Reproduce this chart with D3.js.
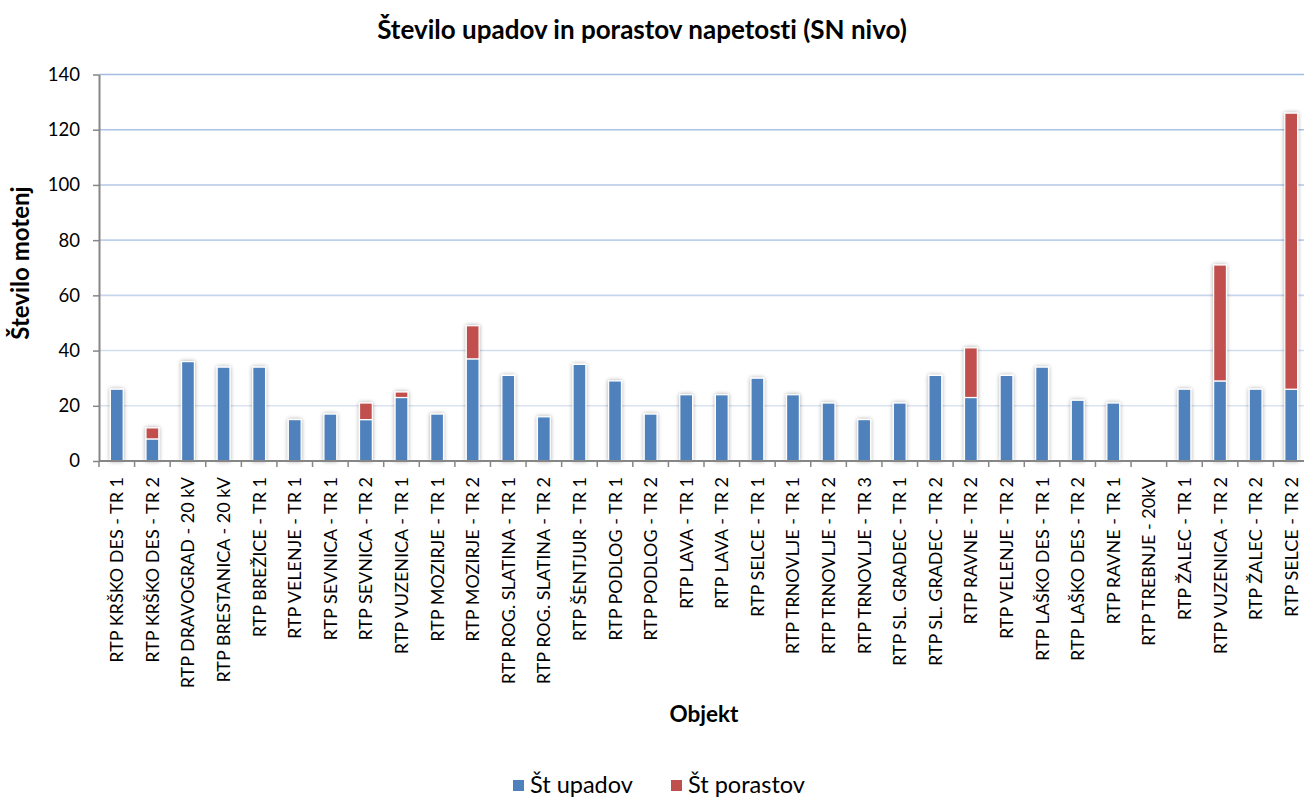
<!DOCTYPE html>
<html><head><meta charset="utf-8">
<script src="https://cdn.jsdelivr.net/npm/d3@7/dist/d3.min.js"></script>
<style>body{margin:0;background:#fff}svg{display:block}text{font-family:Lato,"Open Sans",sans-serif;font-variant-ligatures:none;font-feature-settings:"liga" 0,"clig" 0}</style>
</head><body><svg id="c" width="1304" height="800"></svg>
<script>
const categories = ["RTP KRŠKO DES - TR 1","RTP KRŠKO DES - TR 2","RTP DRAVOGRAD - 20 kV","RTP BRESTANICA - 20 kV","RTP BREŽICE - TR 1","RTP VELENJE - TR 1","RTP SEVNICA - TR 1","RTP SEVNICA - TR 2","RTP VUZENICA - TR 1","RTP MOZIRJE - TR 1","RTP MOZIRJE - TR 2","RTP ROG. SLATINA - TR 1","RTP ROG. SLATINA - TR 2","RTP ŠENTJUR - TR 1","RTP PODLOG - TR 1","RTP PODLOG - TR 2","RTP LAVA - TR 1","RTP LAVA - TR 2","RTP SELCE - TR 1","RTP TRNOVLJE - TR 1","RTP TRNOVLJE - TR 2","RTP TRNOVLJE - TR 3","RTP SL. GRADEC - TR 1","RTP SL. GRADEC - TR 2","RTP RAVNE - TR 2","RTP VELENJE - TR 2","RTP LAŠKO DES - TR 1","RTP LAŠKO DES - TR 2","RTP RAVNE - TR 1","RTP TREBNJE - 20kV","RTP ŽALEC - TR 1","RTP VUZENICA - TR 2","RTP ŽALEC - TR 2","RTP SELCE - TR 2"];
const upadov = [26,8,36,34,34,15,17,15,23,17,37,31,16,35,29,17,24,24,30,24,21,15,21,31,23,31,34,22,21,0,26,29,26,26];
const porastov = [0,4,0,0,0,0,0,6,2,0,12,0,0,0,0,0,0,0,0,0,0,0,0,0,18,0,0,0,0,0,0,42,0,100];
const seriesNames = ["Št upadov","Št porastov"];
const yTicks = [0,20,40,60,80,100,120,140];
const colors = ["#4f81bd","#c0504d"];

const svg = d3.select("#c");
const pL = 99, pR = 1309, pT = 74.5, pB = 461;
const x = d3.scaleBand().domain(categories).range([pL, pR]).paddingInner(0.64).paddingOuter(0.32);
const y = d3.scaleLinear().domain([0,140]).range([pB, pT]);

const defs = svg.append("defs");
const f = defs.append("filter").attr("id","sh").attr("x","-50%").attr("y","-20%").attr("width","200%").attr("height","140%");
f.append("feGaussianBlur").attr("in","SourceAlpha").attr("stdDeviation",2.2).attr("result","b");
f.append("feComponentTransfer").attr("in","b").attr("result","o2").append("feFuncA").attr("type","linear").attr("slope",0.35);
const m = f.append("feMerge"); m.append("feMergeNode").attr("in","o2"); m.append("feMergeNode").attr("in","SourceGraphic");

// gridlines
const gc = d3.scaleLinear().domain([0,140]).range(["#e3eaf5","#a3bce2"]);
svg.append("g").selectAll("line").data(yTicks.filter(d=>d>0)).join("line")
  .attr("x1",pL).attr("x2",pR).attr("y1",d=>y(d)).attr("y2",d=>y(d))
  .attr("stroke",d=>gc(d)).attr("stroke-width",1.6);

// bars
const stack = categories.map((c,i)=>({c, a:upadov[i], b:porastov[i]}));
const bars = svg.append("g").attr("filter","url(#sh)");
stack.forEach(d=>{
  if (d.a>0) bars.append("rect").attr("x",x(d.c)).attr("width",x.bandwidth()).attr("y",y(d.a)).attr("height",y(0)-y(d.a))
    .attr("fill",colors[0]).attr("stroke","#fff").attr("stroke-width",1.2);
  if (d.b>0) bars.append("rect").attr("x",x(d.c)).attr("width",x.bandwidth()).attr("y",y(d.a+d.b)).attr("height",y(d.a)-y(d.a+d.b))
    .attr("fill",colors[1]).attr("stroke","#fff").attr("stroke-width",1.2);
});

// y axis
const ya = svg.append("g").attr("transform",`translate(${pL},0)`).call(d3.axisLeft(y).tickValues(yTicks).tickSize(6).tickSizeOuter(0));
ya.select(".domain").attr("stroke","#868686").attr("stroke-width",2);
ya.selectAll(".tick line").attr("stroke","#868686").attr("stroke-width",1.5);
ya.selectAll(".tick text").attr("x",-19).attr("font-size",18.5).attr("fill","#000").style("font-family","Lato");

// x axis
const xa = svg.append("g").attr("transform",`translate(0,${pB})`);
xa.append("line").attr("x1",pL).attr("x2",pR).attr("stroke","#868686").attr("stroke-width",2);
const step = x.step();
xa.selectAll("line.t").data(d3.range(categories.length+1)).join("line").attr("class","t")
  .attr("x1",i=>pL+i*step).attr("x2",i=>pL+i*step).attr("y1",0).attr("y2",6).attr("stroke","#868686").attr("stroke-width",1.5);
xa.selectAll("text").data(categories).join("text")
  .attr("transform",d=>`translate(${x(d)+x.bandwidth()/2+6.5},16) rotate(-90)`)
  .attr("text-anchor","end").attr("font-size",18).attr("fill","#000").text(d=>d);

// titles
svg.append("text").attr("x",642).attr("y",39).attr("text-anchor","middle").attr("font-size",26).attr("font-weight","bold").text("Število upadov in porastov napetosti (SN nivo)");
svg.append("text").attr("transform","translate(29,263) rotate(-90)").attr("text-anchor","middle").attr("font-size",24).attr("font-weight","bold").text("Število motenj");
svg.append("text").attr("x",704).attr("y",722).attr("text-anchor","middle").attr("font-size",22.5).attr("font-weight","bold").text("Objekt");

// legend
const lg = svg.append("g");
const lx = [513, 671];
seriesNames.forEach((n,i)=>{
  lg.append("rect").attr("x",lx[i]).attr("y",780).attr("width",11).attr("height",11).attr("fill",colors[i]);
  lg.append("text").attr("x",lx[i]+17).attr("y",793).attr("font-size",23.5).attr("fill","#000").text(n);
});
</script></body></html>
